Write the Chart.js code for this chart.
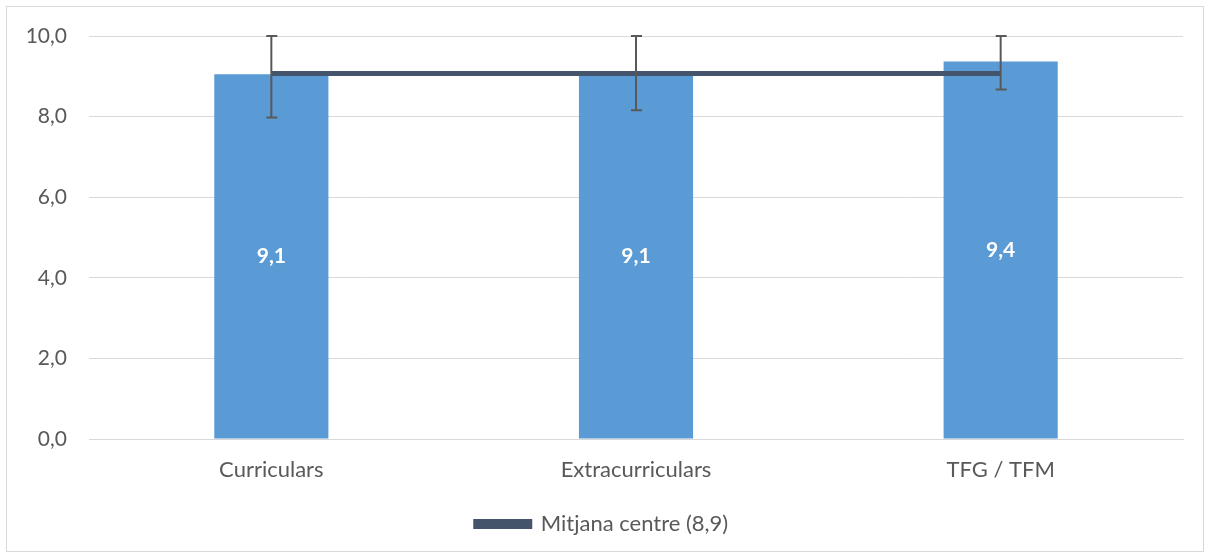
<!DOCTYPE html>
<html>
<head>
<meta charset="utf-8">
<script src="https://cdn.jsdelivr.net/npm/chart.js@4.4.1/dist/chart.umd.min.js"></script>
<style>
  html, body { margin: 0; padding: 0; background: #fff; }
  #wrap { position: absolute; left: 6px; top: 6px; width: 1196px; height: 544px; border: 1px solid #d9d9d9; }
</style>
</head>
<body>
<div id="wrap"><canvas id="chart"></canvas></div>
<script>
const categories = ['Curriculars', 'Extracurriculars', 'TFG / TFM'];
const barValues = [9.05, 9.05, 9.37];
const errLow = [7.98, 8.16, 8.67];
const errHigh = [10.0, 10.0, 10.0];
const meanValues = [9.07, 9.07, 9.07];
const meanLabel = 'Mitjana centre (8,9)';
const yTicks = [0, 2, 4, 6, 8, 10];

const fmt = v => v.toFixed(1).replace('.', ',');
const FONT = "Lato, sans-serif";

// error bars + labels inside bars
const extras = {
    id: 'extras',
    afterDatasetsDraw(chart) {
        const ctx = chart.ctx;
        const y = chart.scales.y;
        const bars = chart.getDatasetMeta(0).data;
        ctx.save();
        ctx.fillStyle = '#ffffff';
        ctx.font = 'bold 21px ' + FONT;
        ctx.textAlign = 'center';
        ctx.textBaseline = 'middle';
        bars.forEach((bar, i) => {
            ctx.fillText(fmt(barValues[i]), bar.x, (bar.y + bar.base) / 2);
        });
        ctx.strokeStyle = '#595959';
        ctx.lineWidth = 2;
        bars.forEach((bar, i) => {
            const lo = y.getPixelForValue(errLow[i]);
            const hi = y.getPixelForValue(errHigh[i]);
            ctx.beginPath();
            ctx.moveTo(bar.x, lo); ctx.lineTo(bar.x, hi);
            ctx.moveTo(bar.x - 5, lo); ctx.lineTo(bar.x + 6, lo);
            ctx.moveTo(bar.x - 5, hi); ctx.lineTo(bar.x + 6, hi);
            ctx.stroke();
        });
        ctx.restore();
    }
};

new Chart(document.getElementById('chart'), {
    data: {
        labels: categories,
        datasets: [{
            type: 'bar',
            label: 'Valoració',
            data: barValues,
            backgroundColor: '#5B9BD5',
            categoryPercentage: 1,
            barPercentage: 0.313,
            order: 2
        }, {
            type: 'line',
            label: meanLabel,
            data: meanValues,
            borderColor: '#44546A',
            backgroundColor: '#44546A',
            borderWidth: 5,
            pointRadius: 0,
            order: 1
        }]
    },
    options: {
        responsive: true,
        maintainAspectRatio: false,
        animation: false,
        layout: { padding: { top: 29, right: 20, bottom: 6, left: 14 } },
        plugins: {
            tooltip: { enabled: false },
            legend: {
                position: 'bottom',
                labels: {
                    filter: item => item.datasetIndex === 1,
                    boxWidth: 54,
                    boxHeight: 5,
                    padding: 14,
                    color: '#595959',
                    font: { family: FONT, size: 22 }
                }
            }
        },
        scales: {
            x: {
                grid: { display: false, drawTicks: false },
                border: { color: '#d9d9d9', width: 1 },
                ticks: { color: '#595959', padding: 18, font: { family: FONT, size: 22 } },
                afterFit: s => { s.height = 60; }
            },
            y: {
                min: 0,
                max: 10,
                afterBuildTicks: s => { s.ticks = yTicks.map(v => ({ value: v })); },
                grid: { color: '#d9d9d9', drawTicks: false },
                border: { display: false },
                ticks: { color: '#595959', padding: 22, font: { family: FONT, size: 21 }, callback: v => fmt(v) },
                afterFit: s => { s.width = 68; s.paddingTop = 0; s.paddingBottom = 0; }
            }
        }
    },
    plugins: [extras]
});
</script>
</body>
</html>
